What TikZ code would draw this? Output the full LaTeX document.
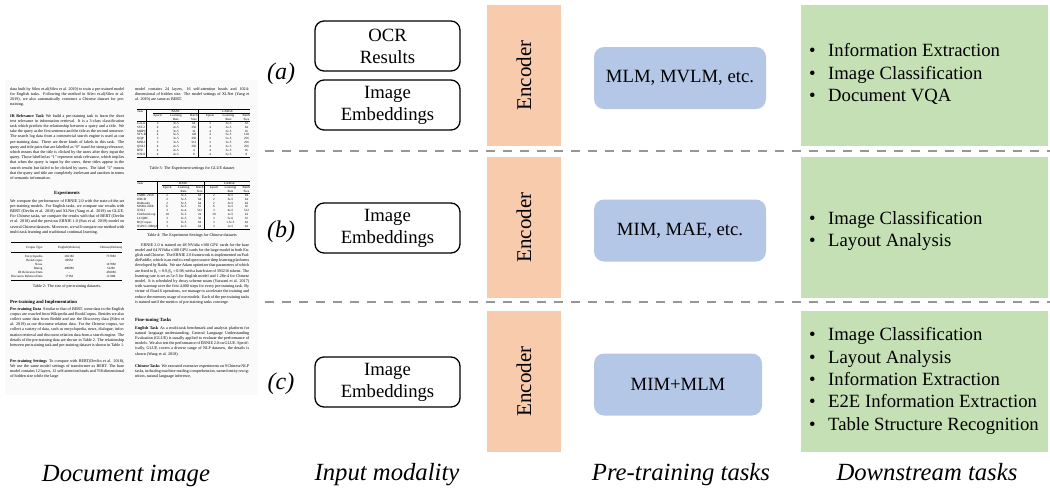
\documentclass[tikz,border=0pt]{standalone}
\usepackage{fontspec}
\setmainfont{Liberation Serif}
\usepackage{booktabs}
\definecolor{ffcbad}{rgb}{0.9725,0.7961,0.6784}
\definecolor{bbc7e7}{rgb}{0.7059,0.7804,0.9059}
\definecolor{cce0bb}{rgb}{0.7725,0.8784,0.7059}
\definecolor{sqsqsq}{rgb}{0.5882,0.5882,0.5882}
\newcommand{\dsbul}{\makebox[19pt][l]{\textbullet}}

\begin{document}
\begin{tikzpicture}[x=1pt,y=-1pt,line cap=round,line join=round,
pgtext/.style={inner sep=0pt,text width=114pt,align=justify,font=\fontsize{4.1}{5.2}\selectfont},
pghead/.style={inner sep=0pt,font=\fontsize{4.7}{5.5}\selectfont\bfseries},
pgcap/.style={inner sep=0pt,font=\fontsize{4.1}{5}\selectfont},
pgtab/.style={inner sep=0pt,font=\fontsize{3.2}{3.9}\selectfont\setlength{\tabcolsep}{1pt}\setlength{\arrayrulewidth}{0.3pt}},
inbox/.style={draw=black,line width=1.3pt,rounded corners=9pt,minimum width=145pt,minimum height=50pt,inner sep=0pt,align=center,font=\fontsize{18.7}{22}\selectfont},
taskbox/.style={fill=bbc7e7,rounded corners=10pt,minimum width=172pt,minimum height=62pt,inner sep=0pt,font=\fontsize{18.7}{22}\selectfont},
tasklist/.style={inner sep=0pt,align=left,font=\fontsize{18.7}{22.3}\selectfont},
rowlabel/.style={inner sep=0pt,font=\fontsize{24}{28}\selectfont\itshape},
collabel/.style={inner sep=0pt,anchor=base,font=\fontsize{24.7}{28}\selectfont\itshape}]
\useasboundingbox (0,0) rectangle (1050,488);

%% document page
\fill[black!2] (5,80) rectangle (258,395);
\node[pgtext,anchor=north west] (lpa) at (10,87) {data built by Sileo et.al(Sileo et al. 2019) to train a pre-trained model for English tasks. Following the method in Sileo et.al(Sileo et al. 2019), we also automatically construct a Chinese dataset for pre-training.};
\node[pgtext,anchor=north west] (lpb) at (10,114) {\textbf{IR Relevance Task}\enspace We build a pre-training task to learn the short text relevance in information retrieval. It is a 3-class classification task which predicts the relationship between a query and a title. We take the query as the first sentence and the title as the second sentence. The search log data from a commercial search engine is used as our pre-training data. There are three kinds of labels in this task. The query and title pairs that are labelled as ``0'' stand for strong relevance, which means that the title is clicked by the users after they input the query. Those labelled as ``1'' represent weak relevance, which implies that when the query is input by the users, these titles appear in the search results but failed to be clicked by users. The label ``2'' means that the query and title are completely irrelevant and random in terms of semantic information.};
\node[pghead] (lph) at (67,193) {Experiments};
\node[pgtext,anchor=north west] (lpc) at (10,199) {We compare the performance of ERNIE 2.0 with the state-of-the-art pre-training models. For English tasks, we compare our results with BERT (Devlin et al. 2018) and XLNet (Yang et al. 2019) on GLUE. For Chinese tasks, we compare the results with that of BERT (Devlin et al. 2018) and the previous ERNIE 1.0 (Sun et al. 2019) model on several Chinese datasets. Moreover, we will compare our method with multi-task learning and traditional continual learning.};
\node[pgtab,anchor=north west] (tabb) at (11,242) {\setlength{\tabcolsep}{2pt}\begin{tabular*}{111pt}{@{}r@{\extracolsep{\fill}}cc@{}}
\toprule[0.9pt]
Corpus Type & English(\#tokens) & Chinese(\#tokens)\\ \midrule[0.3pt]
Encyclopedia & 2021M & 7378M\\
BookCorpus & 805M & -\\
News & - & 1478M\\
Dialog & 4908M & 522M\\
IR Relevance Data & - & 4500M\\
Discourse Relation Data & 171M & 1110M\\ \bottomrule[0.9pt]
\end{tabular*}};
\node[pgcap] (capb) at (67,286) {Table 2: The size of pre-training datasets.};
\node[pghead,anchor=west] (lpi) at (10,302) {Pre-training and Implementation};
\node[pgtext,anchor=north west] (lpd) at (10,307) {\textbf{Pre-training Data}\enspace Similar to that of BERT, some data in the English corpus are crawled from Wikipedia and BookCorpus. Besides we also collect some data from Reddit and use the Discovery data (Sileo et al. 2019) as our discourse relation data. For the Chinese corpus, we collect a variety of data, such as encyclopedia, news, dialogue, information retrieval and discourse relation data from a search engine. The details of the pre-training data are shown in Table 2. The relationship between pre-training task and pre-training dataset is shown in Table 1.};
\node[pgtext,anchor=north west] (lpe) at (10,359) {\textbf{Pre-training Settings}\enspace To compare with BERT(Devlin et al. 2018), We use the same model settings of transformer as BERT. The base model contains 12 layers, 12 self-attention heads and 768-dimensional of hidden size while the large};

\node[pgtext,anchor=north west] (rpa) at (135,87) {model contains 24 layers, 16 self-attention heads and 1024-dimensional of hidden size. The model settings of XLNet (Yang et al. 2019) are same as BERT.};
\node[pgtab,anchor=north west] (tabc) at (137,109) {\begin{tabular*}{113pt}{@{}l@{\extracolsep{\fill}}|ccc|ccc@{}}
\hline
Task & \multicolumn{3}{c|}{BASE} & \multicolumn{3}{c}{LARGE}\\ \cline{2-7}
 & Epoch & Learning & Batch & Epoch & Learning & Batch\\
 & & Rate & Size & & Rate & Size\\ \hline
CoLA & 3 & 3e-5 & 64 & 3 & 3e-5 & 32\\
SST-2 & 4 & 2e-5 & 256 & 4 & 2e-5 & 64\\
MRPC & 4 & 3e-5 & 32 & 4 & 3e-5 & 16\\
STS-B & 4 & 5e-5 & 128 & 4 & 5e-5 & 128\\
QQP & 3 & 3e-5 & 256 & 3 & 5e-5 & 256\\
MNLI & 3 & 3e-5 & 512 & 3 & 3e-5 & 256\\
QNLI & 4 & 2e-5 & 256 & 4 & 2e-5 & 256\\
RTE & 4 & 2e-5 & 4 & 4 & 3e-5 & 16\\
WNLI & 4 & 2e-5 & 8 & 4 & 2e-5 & 8\\ \hline
\end{tabular*}};
\node[pgcap] (capc) at (192,168) {Table 3: The Experiment settings for GLUE dataset};
\node[pgtab,anchor=north west] (tabd) at (137,181) {\begin{tabular*}{113pt}{@{}l@{\extracolsep{\fill}}|ccc|ccc@{}}
\hline
Task & \multicolumn{3}{c|}{BASE} & \multicolumn{3}{c}{LARGE}\\ \cline{2-7}
 & Epoch & Learning & Batch & Epoch & Learning & Batch\\
 & & Rate & Size & & Rate & Size\\ \hline
CMRC 2018 & 2 & 3e-5 & 64 & 2 & 3e-5 & 64\\
DRCD & 2 & 5e-5 & 64 & 2 & 3e-5 & 64\\
DuReader & 2 & 5e-5 & 64 & 2 & 2e-5 & 64\\
MSRA-NER & 6 & 5e-5 & 16 & 6 & 1e-5 & 16\\
XNLI & 3 & 1e-4 & 512 & 3 & 4e-5 & 512\\
ChnSentiCorp & 10 & 5e-5 & 24 & 10 & 1e-5 & 24\\
LCQMC & 3 & 2e-5 & 32 & 3 & 5e-6 & 32\\
BQ Corpus & 3 & 5e-5 & 64 & 3 & 1.5e-5 & 64\\
NLPCC-DBQA & 3 & 2e-5 & 64 & 3 & 1e-5 & 64\\ \hline
\end{tabular*}};
\node[pgcap] (capd) at (192,235) {Table 4: The Experiment Settings for Chinese datasets};
\node[pgtext,anchor=north west] (rpb) at (135,243) {\hspace*{6pt}ERNIE 2.0 is trained on 48 NVidia v100 GPU cards for the base model and 64 NVidia v100 GPU cards for the large model in both English and Chinese. The ERNIE 2.0 framework is implemented on PaddlePaddle, which is an end-to-end open source deep learning platforms developed by Baidu. We use Adam optimizer that parameters of which are fixed to β\textsubscript{1} = 0.9, β\textsubscript{2} = 0.98, with a batch size of 393216 tokens. The learning rate is set as 5e-5 for English model and 1.28e-4 for Chinese model. It is scheduled by decay scheme noam (Vaswani et al. 2017) with warmup over the first 4,000 steps for every pre-training task. By virtue of float16 operations, we manage to accelerate the training and reduce the memory usage of our models. Each of the pre-training tasks is trained until the metrics of pre-training tasks converge.};
\node[pghead,anchor=west] (rph) at (135,320) {Fine-tuning Tasks};
\node[pgtext,anchor=north west] (rpc) at (135,326) {\textbf{English Task}\enspace As a multi-task benchmark and analysis platform for natural language understanding, General Language Understanding Evaluation (GLUE) is usually applied to evaluate the performance of models. We also test the performance of ERNIE 2.0 on GLUE. Specifically, GLUE covers a diverse range of NLP datasets, the details is shown (Wang et al. 2018).};
\node[pgtext,anchor=north west] (rpd) at (135,364) {\textbf{Chinese Tasks}\enspace We executed extensive experiments on 9 Chinese NLP tasks, including machine reading comprehension, named entity recognition, natural language inference,};

%% separators
\foreach \y in {151,302}
\draw[sqsqsq,line width=2.6pt,line cap=butt,dash pattern=on 9pt off 8pt] (265,\y) -- (1050,\y);

%% encoder and downstream panels
\foreach \t/\b/\n in {5/146/a,157/298/b,311/452/c}{
\fill[ffcbad] (487,\t) rectangle (561,\b);
\fill[cce0bb] (801,\t) rectangle (1048,\b);
\node[rotate=90,inner sep=0pt,font=\fontsize{21}{24}\selectfont] (enc\n) at (524,{(\t+\b)/2}) {Encoder};
}

%% input modality
\node[rowlabel] (rowa) at (281,74) {(a)};
\node[rowlabel] (rowb) at (281,232) {(b)};
\node[rowlabel] (rowc) at (281,384) {(c)};
\node[inbox] (ocr) at (387.5,46) {OCR\\Results};
\node[inbox] (imga) at (387.5,105) {Image\\Embeddings};
\node[inbox] (imgb) at (387.5,228) {Image\\Embeddings};
\node[inbox] (imgc) at (387.5,382) {Image\\Embeddings};

%% pre-training tasks
\node[taskbox] (pta) at (680,78) {MLM, MVLM, etc.};
\node[taskbox] (ptb) at (680,230.5) {MIM, MAE, etc.};
\node[taskbox,minimum width=168pt] (ptc) at (678,384.5) {MIM+MLM};

%% downstream tasks
\node[tasklist,anchor=west] (dsa) at (809,74) {\dsbul Information Extraction\\\dsbul Image Classification\\\dsbul Document VQA};
\node[tasklist,anchor=west] (dsb) at (809,231) {\dsbul Image Classification\\\dsbul Layout Analysis};
\node[tasklist,anchor=west] (dsc) at (809,381) {\dsbul Image Classification\\\dsbul Layout Analysis\\\dsbul Information Extraction\\\dsbul E2E Information Extraction\\\dsbul Table Structure Recognition};

\begin{scriptsize}
\node[collabel] (cola) at (126,481) {Document image};
\node[collabel] (colb) at (387,480) {Input modality};
\node[collabel] (colc) at (681,480) {Pre-training tasks};
\node[collabel] (cold) at (927,480) {Downstream tasks};
\end{scriptsize}

\end{tikzpicture}
\end{document}
